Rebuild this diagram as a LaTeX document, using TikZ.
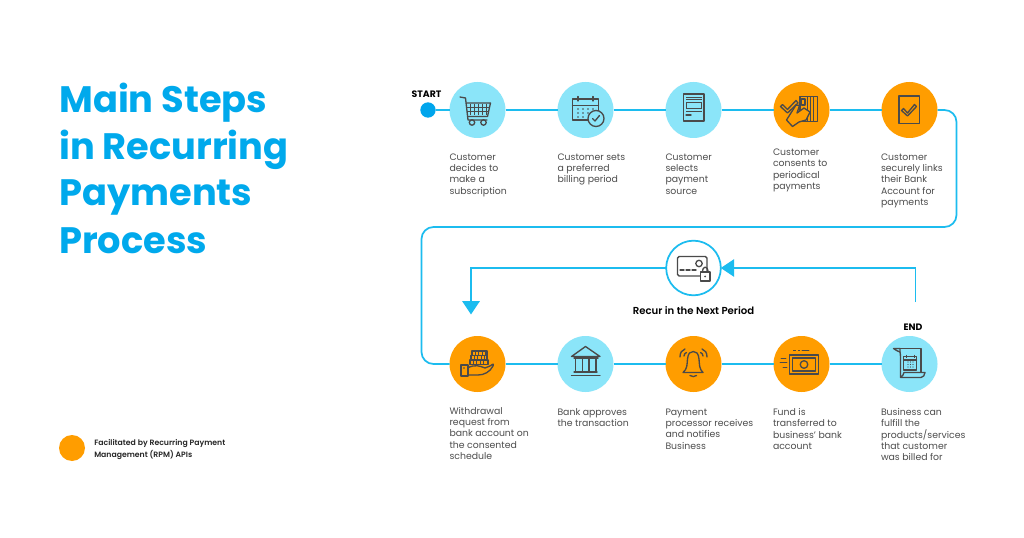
\documentclass[tikz,border=0pt]{standalone}
\usepackage{fontspec}
\setmainfont{Poppins}[BoldFont={* SemiBold}]
\newfontface\heavyface{Poppins Bold}
\usetikzlibrary{arrows.meta}
\definecolor{lightb}{HTML}{8BE5F9}
\definecolor{orangeb}{HTML}{FF9D00}
\definecolor{lineb}{HTML}{1CBCEF}
\definecolor{dotb}{HTML}{00A5EC}
\definecolor{titleb}{HTML}{00A9EC}
\definecolor{icon}{HTML}{4A4A4A}
\definecolor{txt}{HTML}{4D4D4D}
\tikzset{
  base/.style={circle,minimum size=42pt,inner sep=0pt,outer sep=0pt},
  blues/.style={base,fill=lightb},
  oranges/.style={base,fill=orangeb},
  conn/.style={draw=lineb,line width=1.3pt},
  arrowed/.style={conn,-{Triangle[length=10pt,width=13pt]}},
  ic/.style={draw=icon,line width=1pt,line join=round,line cap=round},
  ict/.style={draw=icon,line width=0.55pt},
  lbl/.style={anchor=north west,inner sep=0pt,outer sep=0pt,align=left,text=txt,font=\fontsize{7pt}{8.5pt}\selectfont},
  hdr/.style={inner sep=0pt,text=black,font=\fontsize{7pt}{8pt}\selectfont\heavyface},
  ttl/.style={anchor=base west,inner sep=0pt,text=titleb,font=\fontsize{27.6pt}{34pt}\selectfont\heavyface}
}
\begin{document}
\begin{tikzpicture}[x=0.75pt,y=-0.75pt]
\useasboundingbox (0,0) rectangle (1024,538);
\fill[white] (0,0) rectangle (1024,538);
% title
\node[ttl] (t1) at (59,113) {Main Steps};
\node[ttl] (t2) at (59,160) {in Recurring};
\node[ttl] (t3) at (59,206) {Payments};
\node[ttl] (t4) at (59,253) {Process};
% legend
\node[oranges,minimum size=19.5pt] (leg) at (72,448) {};
\node[anchor=north west,inner sep=0pt,align=left,text=black!85,font=\fontsize{5.8pt}{8.8pt}\selectfont\bfseries] (legt) at (94,439) {Facilitated by Recurring Payment\\Management (RPM) APIs};
% circles
\node[circle,fill=dotb,minimum size=11.5pt,inner sep=0pt,outer sep=0pt] (st) at (428,110) {};
\node[blues] (c1) at (477.5,110) {};
\node[blues] (c2) at (585.5,110) {};
\node[blues] (c3) at (693.5,110) {};
\node[oranges] (c4) at (801.5,110) {};
\node[oranges] (c5) at (909.5,110) {};
\node[oranges] (c6) at (477.5,364) {};
\node[blues] (c7) at (585.5,364) {};
\node[oranges] (c8) at (693.5,364) {};
\node[oranges] (c9) at (801.5,364) {};
\node[blues] (c10) at (909.5,364) {};
\node[base,draw=lineb,line width=1.3pt,fill=white,minimum size=41pt] (rc) at (693.5,268) {};
% connectors
\coordinate (k1) at (956.5,110);
\coordinate (k2) at (956.5,227);
\coordinate (k3) at (421.5,227);
\coordinate (k4) at (421.5,364);
\coordinate (k5) at (915.5,302);
\coordinate (k6) at (915.5,268);
\coordinate (k7) at (471,268);
\coordinate (k8) at (471,314.5);
\draw[conn] (st) -- (c1);
\draw[conn] (c1) -- (c2);
\draw[conn] (c2) -- (c3);
\draw[conn] (c3) -- (c4);
\draw[conn] (c4) -- (c5);
\draw[conn,rounded corners=9pt] (c5) -- (k1) -- (k2) -- (k3) -- (k4) -- (c6);
\draw[conn] (c6) -- (c7);
\draw[conn] (c7) -- (c8);
\draw[conn] (c8) -- (c9);
\draw[conn] (c9) -- (c10);
\draw[arrowed] (k5) -- (k6) -- (rc);
\draw[arrowed] (rc) -- (k7) -- (k8);
% headers
\node[hdr] (h1) at (426.5,94) {START};
\node[hdr] (h2) at (913,327.5) {END};
\node[hdr,font=\fontsize{7.6pt}{8pt}\selectfont\bfseries] (h3) at (693.5,311) {Recur in the Next Period};
% labels
\node[lbl] (l1) at (449.5,153.5) {Customer\\decides to\\make a\\subscription};
\node[lbl] (l2) at (557.5,153.5) {Customer sets\\a preferred\\billing period};
\node[lbl] (l3) at (665.5,153.5) {Customer\\selects\\payment\\source};
\node[lbl] (l4) at (773,149) {Customer\\consents to\\periodical\\payments};
\node[lbl] (l5) at (881,153.5) {Customer\\securely links\\their Bank\\Account for\\payments};
\node[lbl] (l6) at (449.5,407) {Withdrawal\\request from\\bank account on\\the consented\\schedule};
\node[lbl] (l7) at (557.5,408.5) {Bank approves\\the transaction};
\node[lbl] (l8) at (665.5,408.5) {Payment\\processor receives\\and notifies\\Business};
\node[lbl] (l9) at (773,408.5) {Fund is\\transferred to\\business' bank\\account};
\node[lbl] (l10) at (881,408.5) {Business can\\fulfill the\\products/services\\that customer\\was billed for};
% --- icons ---
% cart
\draw[ic] (460,97) -- (465.5,98) -- (468,120) -- (487,120);
\draw[ic] (466.5,103) -- (490.5,103) -- (487.5,116.5) -- (468,116.5);
\foreach \x in {470,474,478,482,486} \draw[ict] (\x,104) -- (\x,115);
\draw[ict] (467,107) -- (490,107);
\draw[ict] (467,111) -- (489,111);
\draw[ic] (472,122.5) circle (2.7);
\draw[ic] (483.5,122.5) circle (2.7);
% calendar
\draw[ic] (572.5,99) rectangle (598.5,120);
\draw[ic] (572.5,105.5) -- (598.5,105.5);
\draw[ic] (578,96.5) -- (578,101);
\draw[ic] (593,96.5) -- (593,101);
\foreach \x in {578,583,588,593} \foreach \y in {109,113} \fill[icon] (\x,\y) circle (0.8);
\foreach \x in {578,583} \fill[icon] (\x,117) circle (0.8);
\draw[ic,fill=lightb] (596,118.5) circle (8);
\draw[ic] (592.5,118.5) -- (595,121) -- (599.5,115.5);
% document
\draw[ic] (683.5,94) rectangle (704,121);
\draw[ict] (686,97) -- (701.5,97);
\draw[ict] (686,99.5) -- (701.5,99.5);
\draw[ict] (686,102) rectangle (701.5,108.5);
\draw[ict] (686,111.5) -- (701.5,111.5);
\draw[ic] (686,115) -- (691,115);
% consent
\draw[ic] (800,96.5) rectangle (817.5,121.5);
\foreach \x in {807,810,813} \draw[ict] (\x,96.5) -- (\x,121.5);
\draw[ic] (801.5,99) rectangle (805,105);
\draw[ic] (782.5,104.5) -- (787.5,109.5) -- (796,100.5) -- (798,103) -- (787.5,113) -- (780.5,106.5) -- cycle;
\draw[ic,fill=orangeb] (786.5,120) -- (796,105) -- (799.5,105.5) -- (797,113) -- (804,108) -- (810,112) -- (806,120) -- (799,122) -- (792.5,126.5) -- cycle;
% checkbox
\draw[ic] (899,96) rectangle (919.5,123.5);
\draw[ic] (903.5,108.5) -- (907.5,113) -- (914.5,104.5) -- (916.5,106.5) -- (907.5,116) -- (901.5,110.5) -- cycle;
% card with lock
\draw[ic,rounded corners=1.2pt] (677.5,256.5) rectangle (707,276);
\draw[ic] (699,263.5) circle (3.2);
\draw[ic,dash pattern=on 3pt off 1.5pt] (680,270) -- (698,270);
\draw[ic,fill=white] (700.5,272) rectangle (710,281);
\draw[ic] (702.5,272) .. controls (702.5,265.5) and (708,265.5) .. (708,272);
\fill[icon] (705.2,276.5) circle (1);
% coins on hand
\foreach \a/\b/\y in {472/487/351,471/487/355.5,470/488/360} {
  \draw[ic,fill=orangeb] (\a,\y) rectangle (\b,\y+4.5);
  \foreach \x in {1,2,3,4} \draw[ict] (\a+3.4*\x,\y) -- (\a+3.4*\x,\y+4.5);
}
\draw[ic,fill=orangeb] (467.5,368) .. controls (475,364) and (480,366) .. (485,368) -- (490,366) .. controls (493,364) and (494,363) .. (493,366) .. controls (490,372) and (484,375) .. (478,375) -- (467.5,375);
\draw[ic,fill=orangeb] (461,365) rectangle (468,376);
\fill[icon] (464,368) circle (0.8);
% bank
\draw[ic] (585.5,346.5) -- (571.5,356.5) -- (600,356.5) -- cycle;
\foreach \x in {575.5,582.5,589,596} \draw[ic,line width=1.2pt] (\x,358.5) -- (\x,371);
\draw[ic] (574,358) -- (598,358);
\draw[ic] (574,372) -- (597,372);
\draw[ic] (571.5,375.5) -- (600,375.5);
% bell
\draw[ic] (683,372.5) -- (703,372.5) .. controls (699,369) and (699.5,364) .. (699,359) .. controls (698.5,353) and (696,351.5) .. (693.3,351.5) .. controls (690.5,351.5) and (688,353) .. (687.5,359) .. controls (687,364) and (687.5,369) .. (683,372.5);
\draw[ic] (690,375.5) .. controls (691.5,377) and (695,377) .. (696.5,375.5);
\draw[ic] (680,357) .. controls (680,352.5) and (682,350) .. (685,349);
\draw[ic] (684,356) .. controls (684,354.5) and (685,353) .. (686.5,352.5);
\draw[ic] (707,357) .. controls (707,352.5) and (705,350) .. (702,349);
\draw[ic] (703,356) .. controls (703,354.5) and (702,353) .. (700.5,352.5);
% money
\draw[ic] (789.5,355) rectangle (818.5,374);
\draw[ic] (792.5,358) rectangle (815.5,371);
\draw[ic] (804,364.5) circle (3.8);
\draw[ict] (793,350) -- (796,350);
\draw[ict] (798,350) -- (800,350);
\draw[ic,line width=0.6pt] (802,350) -- (809,350);
\draw[ic,line width=0.6pt] (781,358.5) -- (786,358.5);
\draw[ic,line width=0.6pt] (780,362.5) -- (787,362.5);
\draw[ic,line width=0.6pt] (783,367) -- (787,367);
% scroll
\draw[ic] (900,348.5) -- (893.5,348.5) .. controls (895.5,350) and (897,351) .. (900,352);
\draw[ic] (900,348.5) .. controls (899.5,352) and (900.5,352) .. (900.5,358) -- (900.5,377);
\draw[ic] (900,348.5) -- (921,348.5) -- (921,372);
\draw[ic] (900.5,377) .. controls (902,376) and (904,375) .. (904,372.5) -- (925,372.5) .. controls (925,375) and (923,377.5) .. (921,377.5) -- (900.5,377.5);
\draw[ic] (903.5,356.5) rectangle (916.5,370);
\draw[ic] (903.5,360) -- (916.5,360);
\draw[ict] (906,354.5) -- (906,358);
\draw[ict] (914,354.5) -- (914,358);
\foreach \x in {908,910.5,913} \foreach \y in {362,364.5,367} \fill[icon] (\x,\y) circle (0.7);
\end{tikzpicture}
\end{document}
